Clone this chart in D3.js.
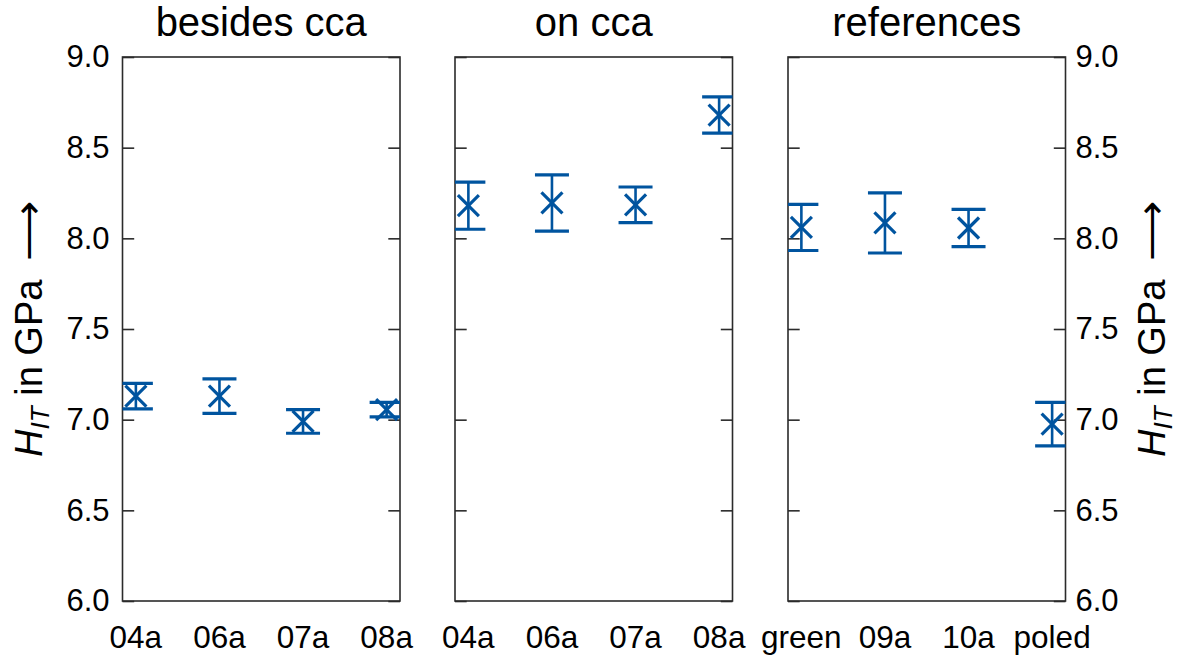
<!DOCTYPE html>
<html>
<head>
<meta charset="utf-8">
<script src="https://cdn.jsdelivr.net/npm/d3@7"></script>
<style>
  body { margin: 0; background: #fff; }
  svg { display: block; font-family: "Liberation Sans", Arial, sans-serif; }
</style>
</head>
<body>
<svg id="chart" width="1177" height="657"></svg>
<script>
// panel titles and categories
const panelTitles = ["besides cca", "on cca", "references"];
const categories = [
    ["04a", "06a", "07a", "08a"],
    ["04a", "06a", "07a", "08a"],
    ["green", "09a", "10a", "poled"]
];
// hardness H_IT in GPa (mean) and error half-width
const means = [
    [7.13, 7.13, 6.99, 7.055],
    [8.18, 8.195, 8.185, 8.68],
    [8.06, 8.085, 8.057, 6.975]
];
const errors = [
    [0.07, 0.095, 0.065, 0.04],
    [0.13, 0.155, 0.098, 0.10],
    [0.127, 0.166, 0.103, 0.12]
];
const yTicks = [6.0, 6.5, 7.0, 7.5, 8.0, 8.5, 9.0];

const blue = "#00549F";
const frameColor = "#2b2b2b";

const svg = d3.select("#chart");

const plotTop = 57, plotBottom = 601;
const panelLeft = [122.5, 455, 788];
const panelWidth = 277.5;

const y = d3.scaleLinear().domain([6, 9]).range([plotBottom, plotTop]);

panelTitles.forEach((title, p) => {
    const x0 = panelLeft[p];
    const x1 = x0 + panelWidth;
    const x = d3.scalePoint()
        .domain(categories[p])
        .range([x0, x1])
        .padding(0.16);

    const g = svg.append("g");

    // clip so that caps stop at the frame
    svg.append("clipPath").attr("id", "clip" + p)
        .append("rect")
        .attr("x", x0).attr("y", plotTop)
        .attr("width", panelWidth).attr("height", plotBottom - plotTop);

    // inner ticks on both sides
    const left = d3.axisLeft(y).tickValues(yTicks).tickSizeInner(-11.7).tickSizeOuter(0)
        .tickFormat(p === 0 ? d3.format(".1f") : "");
    const right = d3.axisRight(y).tickValues(yTicks).tickSizeInner(-11.7).tickSizeOuter(0)
        .tickFormat(p === 2 ? d3.format(".1f") : "");

    const la = g.append("g").attr("transform", `translate(${x0},0)`).call(left);
    const ra = g.append("g").attr("transform", `translate(${x1},0)`).call(right);
    [la, ra].forEach(a => {
        a.select(".domain").remove();
        a.selectAll(".tick line").attr("stroke", frameColor).attr("stroke-width", 1.6);
        a.selectAll(".tick text")
            .attr("font-size", 31)
            .attr("fill", "#000")
            .attr("font-family", "Liberation Sans, Arial, sans-serif");
    });
    la.selectAll(".tick text").attr("x", -13);
    ra.selectAll(".tick text").attr("x", 10);

    // frame
    g.append("rect")
        .attr("x", x0).attr("y", plotTop)
        .attr("width", panelWidth).attr("height", plotBottom - plotTop)
        .attr("fill", "none")
        .attr("stroke", frameColor)
        .attr("stroke-width", 1.6);

    // title
    g.append("text")
        .attr("x", (x0 + x1) / 2).attr("y", 36)
        .attr("text-anchor", "middle")
        .attr("font-size", 40)
        .text(title);

    // category labels
    g.selectAll(".cat")
        .data(categories[p])
        .enter().append("text")
        .attr("x", d => x(d)).attr("y", 648)
        .attr("text-anchor", "middle")
        .attr("font-size", 31.5)
        .text(d => d);

    // error bars
    const pts = categories[p].map((c, i) => ({ c: c, m: means[p][i], e: errors[p][i] }));
    const marks = g.append("g").attr("clip-path", `url(#clip${p})`);
    const cap = 17, mk = 10.5;

    const bar = marks.selectAll(".pt").data(pts).enter().append("g");
    bar.append("line")
        .attr("x1", d => x(d.c)).attr("x2", d => x(d.c))
        .attr("y1", d => y(d.m + d.e)).attr("y2", d => y(d.m - d.e))
        .attr("stroke", blue).attr("stroke-width", 2.6);
    [1, -1].forEach(s => {
        bar.append("line")
            .attr("x1", d => x(d.c) - cap).attr("x2", d => x(d.c) + cap)
            .attr("y1", d => y(d.m + s * d.e)).attr("y2", d => y(d.m + s * d.e))
            .attr("stroke", blue).attr("stroke-width", 3.2);
        bar.append("line")
            .attr("x1", d => x(d.c) - mk).attr("x2", d => x(d.c) + mk)
            .attr("y1", d => y(d.m) - s * mk).attr("y2", d => y(d.m) + s * mk)
            .attr("stroke", blue).attr("stroke-width", 3.2);
    });
});

// y axis labels, left and right
function axisLabel(xPos) {
    const t = svg.append("text")
        .attr("transform", `translate(${xPos},${(plotTop + plotBottom) / 2}) rotate(-90)`)
        .attr("text-anchor", "middle")
        .attr("font-size", 38);
    t.append("tspan").attr("font-style", "italic").text("H");
    t.append("tspan").attr("font-style", "italic").attr("font-size", 26).attr("dy", 7).text("IT");
    t.append("tspan").attr("dy", -7).text(" in GPa ");
    t.append("tspan").attr("dx", 8).attr("font-family", "DejaVu Sans").attr("font-size", 42)
        .attr("font-weight", 300).text("\u27F6");
}
axisLabel(42);
axisLabel(1165);
</script>
</body>
</html>
